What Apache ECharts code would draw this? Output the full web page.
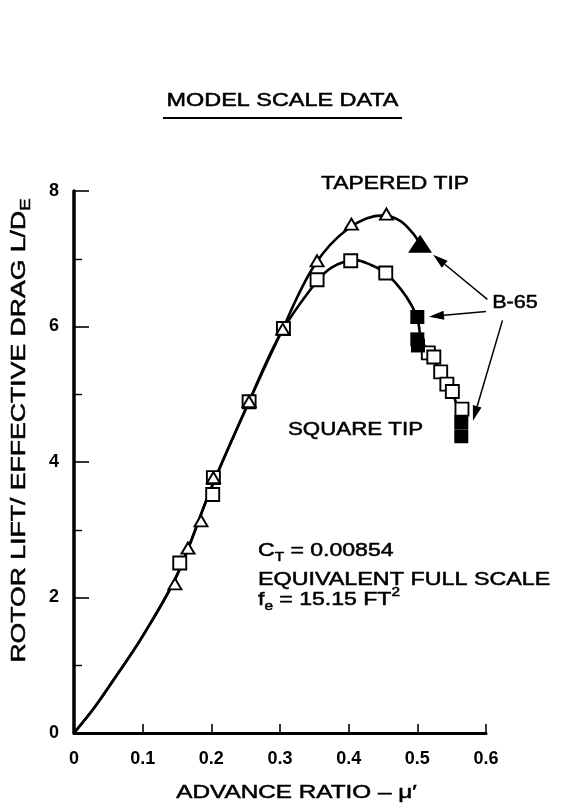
<!DOCTYPE html>
<html>
<head>
<meta charset="utf-8">
<title>Rotor L/De vs advance ratio</title>
<script src="https://cdn.jsdelivr.net/npm/echarts@6/dist/echarts.min.js"></script>
<style>
  html, body { margin: 0; padding: 0; background: #fff; }
  #chart { width: 562px; height: 810px; }
</style>
</head>
<body>
<div id="chart"></div>
<script>
const FONT = '"Liberation Sans", Arial, Helvetica, sans-serif';

// Model scale test points: [advance ratio, L/De]
const taperedTipPoints = [
  [0.147, 2.20], [0.166, 2.73], [0.185, 3.13], [0.203, 3.77], [0.255, 4.89],
  [0.304, 5.96], [0.354, 6.97], [0.404, 7.51], [0.455, 7.66]
];
const taperedTipB65 = [[0.504, 7.22]];

const squareTipPoints = [
  [0.154, 2.51], [0.202, 3.52], [0.203, 3.77], [0.255, 4.89], [0.305, 5.97],
  [0.354, 6.69], [0.403, 6.97], [0.454, 6.79], [0.516, 5.61], [0.524, 5.55],
  [0.534, 5.33], [0.543, 5.15], [0.551, 5.04], [0.565, 4.78]
];
const squareTipB65 = [[0.500, 6.14], [0.500, 5.81], [0.501, 5.72], [0.564, 4.59], [0.564, 4.38]];

// Faired curves through the data
const taperedTipCurve = [
  [0, 0], [0.03, 0.38], [0.06, 0.82], [0.10, 1.43], [0.15, 2.33], [0.20, 3.62],
  [0.25, 4.78], [0.30, 5.88], [0.35, 6.90], [0.40, 7.45], [0.45, 7.64],
  [0.475, 7.56], [0.494, 7.37], [0.505, 7.20]
];
const squareTipCurve = [
  [0, 0], [0.03, 0.38], [0.06, 0.82], [0.10, 1.43], [0.15, 2.33], [0.20, 3.62],
  [0.25, 4.78], [0.30, 5.88], [0.35, 6.62], [0.375, 6.87], [0.41, 6.98],
  [0.43, 6.92], [0.454, 6.79], [0.484, 6.44], [0.50, 6.12], [0.506, 5.80],
  [0.52, 5.57], [0.535, 5.30], [0.55, 5.05], [0.566, 4.55]
];

// Axis ticks
const xTicks = [0, 0.1, 0.2, 0.3, 0.4, 0.5, 0.6];
const yTicks = [0, 2, 4, 6, 8];

// B-65 leader arrows: [from, to] in axis units
const b65Arrows = [
  [[0.602, 6.40], [0.523, 7.06]],
  [[0.600, 6.22], [0.517, 6.145]],
  [[0.624, 6.09], [0.581, 4.61]]
];

const chart = echarts.init(document.getElementById('chart'), null, { renderer: 'canvas' });

const curveLine = { color: '#000', width: 2.6 };
const openMark = { color: '#fff', borderColor: '#000', borderWidth: 1.9, opacity: 1 };
const solidMark = { color: '#000', opacity: 1 };

chart.setOption({
  animation: false,
  backgroundColor: '#fff',
  grid: { left: 74, right: 76, top: 191, bottom: 77 },
  xAxis: {
    type: 'value',
    min: xTicks[0],
    max: xTicks[xTicks.length - 1],
    interval: xTicks[1] - xTicks[0],
    axisLine: { show: true, onZero: false, lineStyle: { color: '#000', width: 3 } },
    axisTick: { show: true, inside: true, length: 9, lineStyle: { color: '#000', width: 1.6 } },
    splitLine: { show: false },
    axisLabel: {
      margin: 17, color: '#000', fontFamily: FONT, fontSize: 18, fontWeight: 'bold',
      formatter: v => (v === 0 ? '0' : v.toFixed(1))
    }
  },
  yAxis: {
    type: 'value',
    min: yTicks[0],
    max: yTicks[yTicks.length - 1],
    interval: yTicks[1] - yTicks[0],
    axisLine: { show: true, onZero: false, lineStyle: { color: '#000', width: 3.5 } },
    axisTick: { show: true, inside: true, length: 15, lineStyle: { color: '#000', width: 1.6 } },
    minorTick: { show: true, splitNumber: 2, length: 8, lineStyle: { color: '#000', width: 1.4 } },
    splitLine: { show: false },
    minorSplitLine: { show: false },
    axisLabel: { margin: 15, color: '#000', fontFamily: FONT, fontSize: 18, fontWeight: 'bold' }
  },
  series: [
    {
      name: 'Tapered tip curve', type: 'line', data: taperedTipCurve, smooth: 0.35,
      showSymbol: false, symbol: 'none', lineStyle: curveLine, z: 1
    },
    {
      name: 'Square tip curve', type: 'line', data: squareTipCurve, smooth: 0.35,
      showSymbol: false, symbol: 'none', lineStyle: curveLine, z: 1
    },
    {
      name: 'Square tip', type: 'scatter', data: squareTipPoints, symbol: 'rect',
      symbolSize: 13, itemStyle: openMark, z: 3
    },
    {
      name: 'Square tip B-65', type: 'scatter', data: squareTipB65, symbol: 'rect',
      symbolSize: 14, itemStyle: solidMark, z: 3
    },
    {
      name: 'Tapered tip', type: 'scatter', data: taperedTipPoints, symbol: 'triangle',
      symbolSize: [13, 11], itemStyle: openMark, z: 4
    },
    {
      name: 'Tapered tip B-65', type: 'scatter', data: taperedTipB65, symbol: 'triangle',
      symbolSize: [24, 18], itemStyle: solidMark, z: 4
    }
  ]
});

// Text block helper: anchored text with horizontal stretch
function label(text, x, y, opts) {
  opts = opts || {};
  return {
    type: 'text',
    x: x, y: y,
    rotation: opts.rotation || 0,
    scaleX: opts.scaleX || 1.28,
    silent: true,
    z: 10,
    style: {
      text: text,
      fill: '#000',
      stroke: '#000',
      lineWidth: 0.5,
      fontFamily: FONT,
      fontSize: opts.fontSize || 18,
      fontWeight: opts.fontWeight || 'normal',
      align: opts.align || 'center',
      textAlign: opts.align || 'center',
      verticalAlign: 'middle',
      textVerticalAlign: 'middle',
      rich: opts.rich
    }
  };
}

function scriptRich(size) {
  const small = Math.round(size * 0.68);
  const ink = { fill: '#000', stroke: '#000', lineWidth: 0.5 };
  return {
    a: Object.assign({ fontFamily: FONT, fontSize: size, lineHeight: size + 2, verticalAlign: 'middle' }, ink),
    s: Object.assign({ fontFamily: FONT, fontSize: small, lineHeight: small, verticalAlign: 'bottom' }, ink),
    p: Object.assign({ fontFamily: FONT, fontSize: small, lineHeight: small, verticalAlign: 'top' }, ink),
    pad: { fontSize: size, lineHeight: size + 8 }
  };
}

const graphics = [
  label('MODEL SCALE DATA', 282.5, 101.5, { scaleX: 1.30 }),
  { type: 'line', silent: true, shape: { x1: 163, y1: 118, x2: 402, y2: 118 }, style: { stroke: '#000', lineWidth: 1.8 } },
  label('TAPERED TIP', 395, 184, { scaleX: 1.27 }),
  label('SQUARE TIP', 355.5, 430, { scaleX: 1.24 }),
  label('B-65', 515, 303.5, { scaleX: 1.2 }),
  label('{pad|}{a|C}{s|T}{a| = 0.00854}', 258, 551, { align: 'left', scaleX: 1.28, rich: scriptRich(18) }),
  label('EQUIVALENT FULL SCALE', 258, 580, { align: 'left', scaleX: 1.295 }),
  label('{pad|}{a|f}{s|e}{a| = 15.15 FT}{p|2}', 258, 600, { align: 'left', scaleX: 1.28, rich: scriptRich(18) }),
  label('ADVANCE RATIO \u2013 \u03bc\u2032', 296.5, 793, { scaleX: 1.35 }),
  label('{pad|}{a|ROTOR LIFT/ EFFECTIVE DRAG L/D}{s|E}', 19, 430.5,
    { rotation: Math.PI / 2, scaleX: 1.33, fontSize: 20, rich: scriptRich(20) })
];

// Leader arrows placed through the axis scales
b65Arrows.forEach(([from, to]) => {
  const p0 = chart.convertToPixel({ gridIndex: 0 }, from);
  const p1 = chart.convertToPixel({ gridIndex: 0 }, to);
  const dx = p1[0] - p0[0], dy = p1[1] - p0[1];
  const len = Math.hypot(dx, dy);
  const ux = dx / len, uy = dy / len;
  const headLen = 15, headHalf = 4.5;
  const bx = p1[0] - ux * headLen, by = p1[1] - uy * headLen;
  graphics.push({
    type: 'line', silent: true, z: 9,
    shape: { x1: p0[0], y1: p0[1], x2: bx, y2: by },
    style: { stroke: '#000', lineWidth: 1.5 }
  });
  graphics.push({
    type: 'polygon', silent: true, z: 9,
    shape: { points: [[p1[0], p1[1]], [bx - uy * headHalf, by + ux * headHalf], [bx + uy * headHalf, by - ux * headHalf]] },
    style: { fill: '#000' }
  });
});

chart.setOption({ graphic: graphics });
</script>
</body>
</html>
